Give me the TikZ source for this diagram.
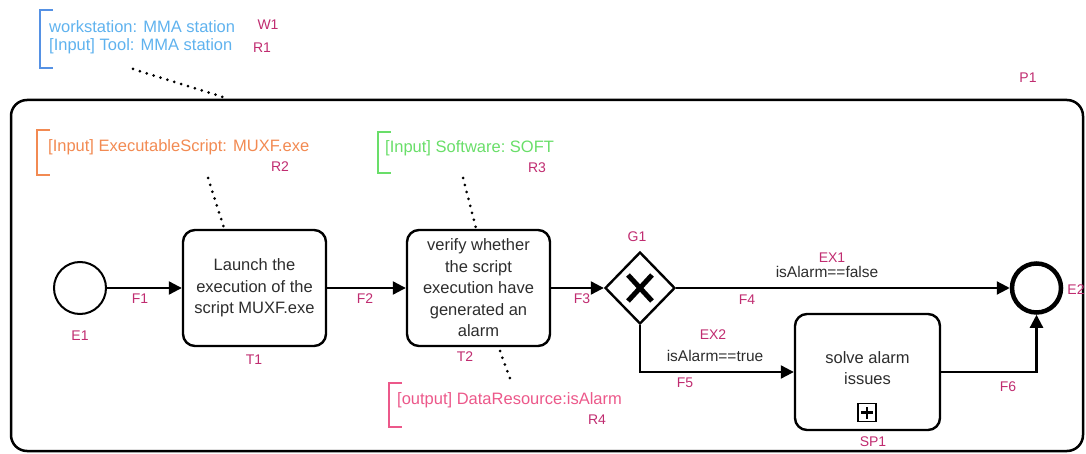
\documentclass[tikz,border=0pt]{standalone}
\usepackage{fontspec}
\setmainfont{Liberation Sans}
\usetikzlibrary{arrows.meta,shapes.geometric}
\definecolor{lblc}{RGB}{192,44,112}
\definecolor{annblue}{RGB}{95,178,238}
\definecolor{brkblue}{RGB}{85,145,228}
\definecolor{annorange}{RGB}{242,138,82}
\definecolor{anngreen}{RGB}{105,222,105}
\definecolor{annpink}{RGB}{236,88,138}
\definecolor{txt}{RGB}{45,45,45}
\begin{document}
\begin{tikzpicture}[x=1pt,y=-1pt,
  task/.style={draw, line width=2.4pt, rounded corners=12pt, minimum width=143pt, minimum height=116pt, align=center, inner sep=2pt, font=\fontsize{16.5}{21.5}\selectfont, text=txt},
  flow/.style={line width=2.2pt, -{Triangle[length=13pt,width=13pt]}},
  lbl/.style={text=lblc, font=\fontsize{14}{16}\selectfont, inner sep=0pt},
  assoc/.style={line width=3pt, line cap=round, dash pattern=on 0pt off 7.2pt},
  brk/.style={line width=2.4pt},
  anntext/.style={font=\fontsize{16.5}{19}\selectfont, inner sep=0pt, anchor=west},
  cond/.style={font=\fontsize{15.5}{17}\selectfont, inner sep=0pt, text=txt}
]
\useasboundingbox (0,0) rectangle (1086,454);
% pool / process container
\draw[line width=2.5pt, rounded corners=16pt] (11,100) rectangle (1083,451);
\node[lbl] (lP1) at (1028,78) {P1};

% annotation W1 / R1
\draw[brk, brkblue] (53,10) -- (40,10) -- (40,68) -- (53,68);
\node[anntext, text=annblue] (tW1) at (49,27) {workstation: MMA station};
\node[anntext, text=annblue] (tR1) at (49,46) {[Input] Tool: MMA station};
\node[lbl] (lW1) at (268,25) {W1};
\node[lbl] (lR1) at (262,48) {R1};
\coordinate (a1s) at (133,69);
\coordinate (a1e) at (226,98);
\draw[assoc] (a1s) -- (a1e);

% annotation R2
\draw[brk, annorange] (50,130) -- (37,130) -- (37,175) -- (50,175);
\node[anntext, text=annorange] (tR2) at (48,147) {[Input] ExecutableScript: MUXF.exe};
\node[lbl] (lR2) at (280,167) {R2};

% annotation R3
\draw[brk, anngreen] (391,132) -- (378,132) -- (378,173) -- (391,173);
\node[anntext, text=anngreen] (tR3) at (385,148) {[Input] Software:\ SOFT};
\node[lbl] (lR3) at (537,168) {R3};

% annotation R4
\draw[brk, annpink] (402,383) -- (389,383) -- (389,427) -- (402,427);
\node[anntext, text=annpink] (tR4) at (397,400) {[output] DataResource:isAlarm};
\node[lbl] (lR4) at (597,420) {R4};

% events
\node[draw, circle, line width=2pt, minimum size=52pt, inner sep=0pt] (E1) at (80,288) {};
\node[lbl] (lE1) at (80,336) {E1};
\node[draw, circle, line width=4.5pt, minimum size=49pt, inner sep=0pt] (E2) at (1036.5,288) {};
\node[lbl] (lE2) at (1076,290) {E2};

% tasks
\node[task] (T1) at (254.5,288) {Launch the\\execution of the\\script MUXF.exe};
\node[lbl] (lT1) at (254,360) {T1};
\node[task] (T2) at (478.5,288) {verify whether\\the script\\execution have\\generated an\\alarm};
\node[lbl] (lT2) at (465,357) {T2};

% sub-process
\node[draw, line width=2.4pt, rounded corners=12pt, minimum width=145pt, minimum height=116pt, inner sep=0pt] (SP1) at (867.5,372) {};
\node[align=center, font=\fontsize{16.5}{21.5}\selectfont, text=txt, inner sep=0pt] (SP1t) at (867.5,368) {solve alarm\\issues};
\node[draw, line width=1.6pt, minimum size=18pt, inner sep=0pt] (SP1m) at (867,412.5) {};
\draw[line width=2.6pt] ([xshift=-6pt]SP1m.center) -- ([xshift=6pt]SP1m.center);
\draw[line width=2.6pt] ([yshift=-6pt]SP1m.center) -- ([yshift=6pt]SP1m.center);
\node[lbl] (lSP1) at (873,442) {SP1};

% gateway
\node[draw, diamond, line width=2.4pt, minimum width=70pt, minimum height=72pt, inner sep=0pt] (G1) at (640,288) {};
\draw[line width=5pt] ([shift={(-12,-13)}]G1.center) -- ([shift={(12,13)}]G1.center);
\draw[line width=5pt] ([shift={(-12,13)}]G1.center) -- ([shift={(12,-13)}]G1.center);
\node[lbl] (lG1) at (637,237) {G1};

% associations
\coordinate (a2s) at (208,178);
\coordinate (a2e) at (224,228);
\draw[assoc] (a2s) -- (a2e);
\coordinate (a3s) at (463,178);
\coordinate (a3e) at (476,228);
\draw[assoc] (a3s) -- (a3e);
\coordinate (a4s) at (500,351);
\coordinate (a4e) at (512,384);
\draw[assoc] (a4s) -- (a4e);

% flows
\draw[flow] (E1.east) -- (T1.west);
\node[lbl] (lF1) at (140,299) {F1};
\draw[flow] (T1.east) -- (T2.west);
\node[lbl] (lF2) at (365,299) {F2};
\draw[flow] (T2.east) -- (G1.west);
\node[lbl] (lF3) at (582,299) {F3};
\draw[flow] (G1.east) -- (E2.west);
\node[lbl] (lEX1) at (832,258) {EX1};
\node[cond] (cEX1) at (827,272) {isAlarm==false};
\node[lbl] (lF4) at (747,300) {F4};
\draw[flow] (G1.south) |- (SP1.west);
\node[lbl] (lEX2) at (713,335) {EX2};
\node[cond] (cEX2) at (715,356) {isAlarm==true};
\node[lbl] (lF5) at (685,383) {F5};
\draw[flow] (SP1.east) -| (E2.south);
\node[lbl] (lF6) at (1008,387) {F6};
\end{tikzpicture}
\end{document}
